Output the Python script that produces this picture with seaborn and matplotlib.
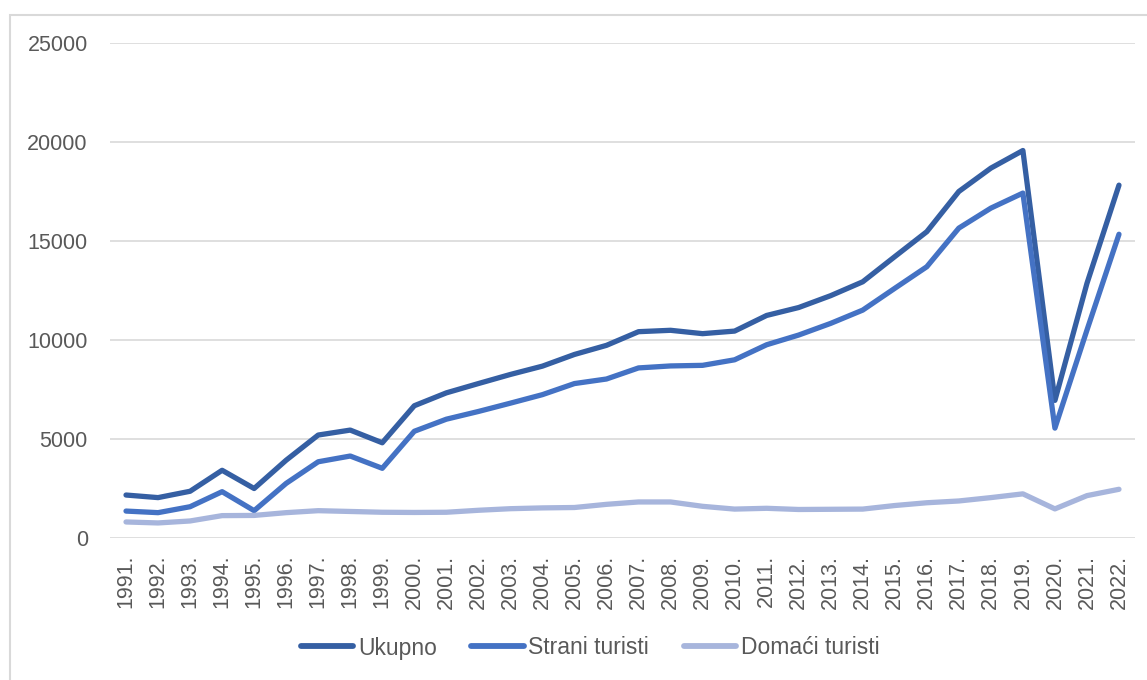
import matplotlib
matplotlib.use("Agg")
import matplotlib.pyplot as plt
from matplotlib.patches import Rectangle
import numpy as np
import pandas as pd
import seaborn as sns

years = list(range(1991, 2023))
year_labels = [f"{y}." for y in years]

ukupno = [2170, 2040, 2360, 3420, 2500, 3930, 5200, 5450, 4810, 6680,
          7330, 7800, 8260, 8680, 9270, 9730, 10420, 10490, 10320, 10450,
          11240, 11640, 12240, 12940, 14210, 15470, 17500, 18680, 19570,
          6950, 12860, 17820]
strani = [1360, 1280, 1580, 2340, 1380, 2760, 3850, 4140, 3520, 5390,
          6000, 6390, 6810, 7240, 7800, 8030, 8590, 8690, 8720, 9000,
          9760, 10250, 10840, 11510, 12610, 13700, 15650, 16660, 17420,
          5550, 10500, 15340]
domaci = [810, 760, 860, 1130, 1140, 1280, 1380, 1340, 1300, 1290,
          1300, 1400, 1480, 1520, 1540, 1700, 1820, 1820, 1600, 1460,
          1500, 1440, 1450, 1460, 1640, 1780, 1870, 2040, 2230, 1470,
          2140, 2460]

series_names = ["Ukupno", "Strani turisti", "Domaći turisti"]
colors = ["#355FA3", "#4472C4", "#A7B5DC"]
y_ticks = [0, 5000, 10000, 15000, 20000, 25000]


def main():
    sns.set_theme(style="white")
    plt.rcParams["font.family"] = ["Liberation Sans", "DejaVu Sans"]

    df = pd.DataFrame({"Godina": years, "Ukupno": ukupno,
                       "Strani turisti": strani, "Domaći turisti": domaci})
    long_df = df.melt(id_vars="Godina", var_name="Serija", value_name="Broj")

    fig = plt.figure(figsize=(11.47, 6.8), dpi=100)
    ax = fig.add_axes([110 / 1147, 1 - 538 / 680, 1025 / 1147, 495 / 680])

    sns.lineplot(data=long_df, x="Godina", y="Broj", hue="Serija",
                 hue_order=series_names, palette=colors, linewidth=3.8,
                 legend=False, ax=ax,
                 solid_joinstyle="round", solid_capstyle="round")

    ax.set_xlim(1990.5, 2022.5)
    ax.set_ylim(0, 25000)
    ax.set_xticks(years)
    ax.set_xticklabels(year_labels, rotation=90)
    ax.set_yticks(y_ticks)
    ax.set_yticklabels([str(v) for v in y_ticks])
    ax.set_xlabel("")
    ax.set_ylabel("")
    ax.grid(axis="y", color="#D9D9D9", linewidth=1.2)
    ax.grid(axis="x", visible=False)
    ax.set_axisbelow(True)
    for spine in ax.spines.values():
        spine.set_visible(False)
    ax.tick_params(axis="y", length=0, pad=16, labelsize=15.5,
                   labelcolor="#595959")
    ax.tick_params(axis="x", length=0, pad=12, labelsize=15.5,
                   labelcolor="#595959")

    leg = fig.legend(ax.lines[:3], series_names, loc="center",
                     bbox_to_anchor=(590 / 1147, 1 - 648 / 680), ncol=3,
                     frameon=False, fontsize=16.5, handlelength=2.3,
                     handletextpad=0.2, columnspacing=1.5,
                     labelcolor="#595959")
    for line in leg.get_lines():
        line.set_linewidth(4.2)

    # chart area border (right and bottom edges are cut off)
    fig.patches.append(Rectangle((10 / 1147, -0.1), 2, 1 - 15 / 680 + 0.1,
                                 transform=fig.transFigure, fill=False,
                                 edgecolor="#D9D9D9", linewidth=1.5))

    fig.savefig("out.png", dpi=100)


if __name__ == "__main__":
    main()
